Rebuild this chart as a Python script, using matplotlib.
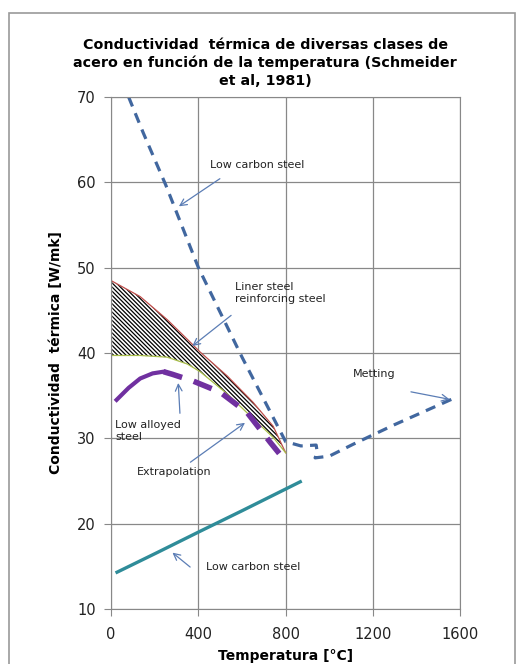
import matplotlib
matplotlib.use("Agg")
import matplotlib.pyplot as plt
from matplotlib.patches import Rectangle

# Low carbon steel (dashed, upper branch + melting part)
lcs_t = [80, 147, 250, 400, 600, 800, 870, 940, 945, 935, 1000, 1110, 1300, 1564]
lcs_k = [70, 65.8, 59.7, 50, 39.5, 29.6, 29.1, 29.2, 28.3, 27.7, 27.9, 29.3, 31.6, 34.6]

# Liner / reinforcing steel band
band_t = [5, 133, 257, 349, 408, 532, 651, 743, 800]
band_hi = [48.4, 46.6, 43.9, 41.6, 40.1, 37.3, 34.2, 31.4, 28.3]
band_lo = [39.7, 39.7, 39.5, 38.7, 37.8, 35.2, 32.3, 30.1, 28.3]

# Low alloyed steel (measured solid, extrapolated dashed)
las_t = [25, 80, 133, 190, 240]
las_k = [34.5, 35.9, 37.0, 37.6, 37.8]
ext_t = [240, 280, 376, 500, 624, 730, 803]
ext_k = [37.8, 37.5, 36.7, 35.4, 33.0, 29.5, 27.2]

# Low carbon steel (solid, lower)
lcs2_t = [27, 211, 408, 600, 867]
lcs2_k = [14.3, 16.6, 19.1, 21.5, 24.9]

x_ticks = [0, 400, 800, 1200, 1600]
y_ticks = [10, 20, 30, 40, 50, 60, 70]

# label text, text position, arrow tail, arrow tip
notes = [
    ("Low carbon steel", (454, 62.0), (509, 60.6), (300, 57.0)),
    ("Liner steel\nreinforcing steel", (569, 47.0), (560, 44.6), (362, 40.6)),
    ("Metting", (1110, 37.5), (1362, 35.5), (1564, 34.5)),
    ("Low alloyed\nsteel", (18, 30.9), (316, 32.6), (307, 36.8)),
    ("Extrapolation", (119, 26.0), (353, 27.0), (624, 32.0)),
    ("Low carbon steel", (436, 14.9), (372, 14.7), (271, 16.8)),
]

plt.rcParams["hatch.linewidth"] = 0.9

fig = plt.figure(figsize=(5.17, 6.64), dpi=100)
ax = fig.add_axes([0.215, 0.083, 0.675, 0.771])

fig.patches.append(Rectangle((9 / 517, -0.05), 506 / 517, 1.05 - 13 / 664,
                             transform=fig.transFigure, fill=False,
                             edgecolor="#9a9a9a", linewidth=1.2))

ax.fill_between(band_t, band_lo, band_hi, facecolor="white", edgecolor="black",
                hatch="\\" * 8, linewidth=0)
ax.plot(band_t, band_hi, color="#C0504D", linewidth=0.9)
ax.plot(band_t, band_lo, color="#A8BE4A", linewidth=0.9)

ax.plot(lcs_t, lcs_k, color="#41679F", linewidth=2.3, dashes=(3.2, 2.3))
ax.plot(las_t, las_k, color="#7030A0", linewidth=3)
ax.plot(ext_t, ext_k, color="#7030A0", linewidth=4, dashes=(3.5, 2.2))
ax.plot(lcs2_t, lcs2_k, color="#2F8C99", linewidth=2.4)

for label, pos, tail, tip in notes:
    ax.text(pos[0], pos[1], label, fontsize=8, color="#222222",
            va="center", ha="left", linespacing=1.25)
    ax.annotate("", xy=tip, xytext=tail,
                arrowprops=dict(arrowstyle="->", color="#5B7DB5", lw=0.9,
                                mutation_scale=12))

ax.set_xlim(0, 1600)
ax.set_ylim(10, 70)
ax.set_xticks(x_ticks)
ax.set_yticks(y_ticks)
ax.tick_params(labelsize=10.5, length=5, color="#888888", labelcolor="#222222")
ax.tick_params(axis="x", pad=8)
ax.tick_params(axis="y", pad=6)
ax.grid(True, color="#888888", linewidth=0.9)
ax.set_axisbelow(True)
for s in ax.spines.values():
    s.set_color("#888888")

ax.set_xlabel("Temperatura [°C]", fontsize=10, fontweight="bold", labelpad=5)
ax.set_ylabel("Conductividad  térmica [W/mk]", fontsize=10, fontweight="bold", labelpad=10)
fig.text(0.513, 1 - 63 / 664,
         "Conductividad  térmica de diversas clases de\n"
         "acero en función de la temperatura (Schmeider\n"
         "et al, 1981)", fontsize=10.3, fontweight="bold",
         ha="center", va="center", linespacing=1.32)

fig.savefig("out.png", dpi=100)
